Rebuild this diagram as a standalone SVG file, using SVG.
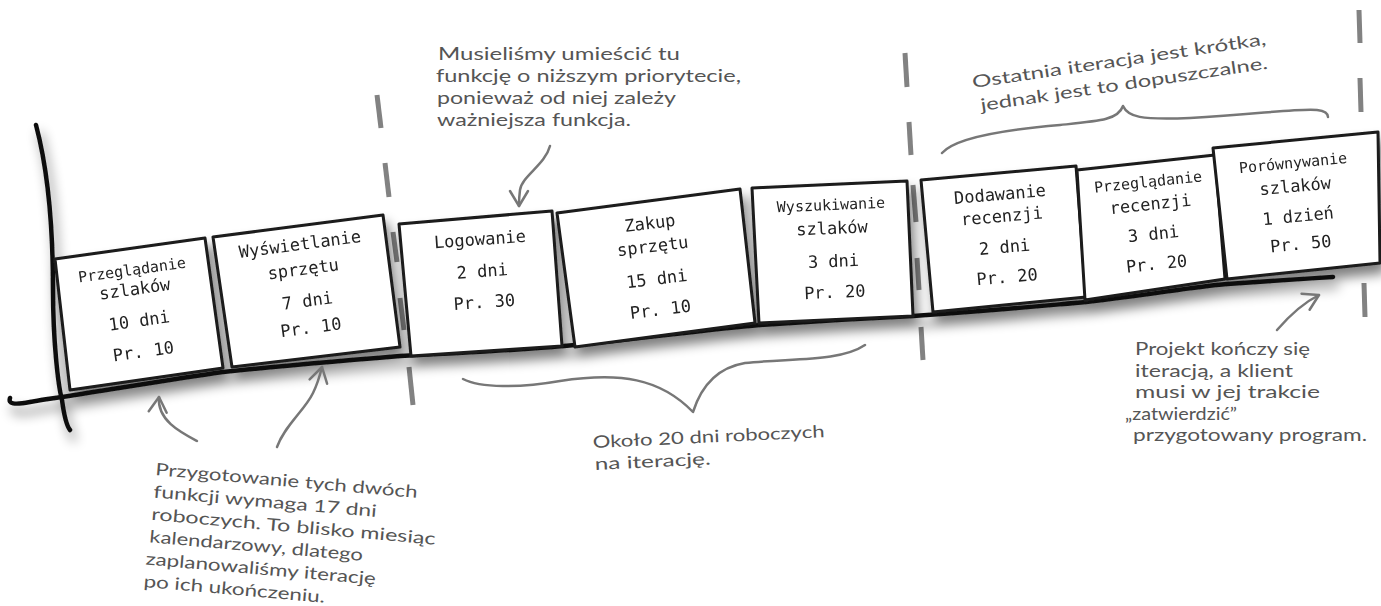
<svg xmlns="http://www.w3.org/2000/svg" width="1381" height="606" viewBox="0 0 1381 606">
<defs>
<style>
.card{fill:#fff;stroke:#1a1a1a;stroke-width:3;stroke-linejoin:round}
.ct{font-family:"DejaVu Sans Mono","Liberation Mono",monospace;font-size:17px;fill:#222;text-anchor:middle}
.s{font-size:15px}
.note{font-family:Lato,"Noto Sans",sans-serif;font-size:17px;fill:#555}
.pen{fill:none;stroke:#777;stroke-width:2.5;stroke-linecap:round;stroke-linejoin:round}
.arrow{marker-end:url(#ah)}
.dash{stroke:#828282;stroke-width:5}
.axis{fill:none;stroke:#111;stroke-width:4.5;stroke-linecap:round;stroke-linejoin:round}
</style>
<marker id="ah" markerUnits="userSpaceOnUse" markerWidth="30" markerHeight="30" refX="0" refY="0" orient="auto" overflow="visible">
<path d="M-15,-9 L0,0 L-15,9" fill="none" stroke="#777" stroke-width="2.5" stroke-linecap="round" stroke-linejoin="round"/>
</marker>
<filter id="sh" x="-5%" y="-20%" width="115%" height="160%">
<feGaussianBlur in="SourceAlpha" stdDeviation="6"/>
<feOffset dx="4" dy="9"/>
<feComponentTransfer><feFuncA type="linear" slope="0.5"/></feComponentTransfer>
<feMerge><feMergeNode/><feMergeNode in="SourceGraphic"/></feMerge>
</filter>
</defs>
<rect width="1381" height="606" fill="#fff"/>

<g id="iteration-dividers">
<line class="dash" x1="377" y1="95" x2="381" y2="128"/>
<line class="dash" x1="385" y1="163" x2="389" y2="197"/>
<line class="dash" x1="393" y1="232" x2="397" y2="262"/>
<line class="dash" x1="400" y1="298" x2="404" y2="330"/>
<line class="dash" x1="409" y1="367" x2="413" y2="405"/>
<line class="dash" x1="905" y1="53" x2="907" y2="87"/>
<line class="dash" x1="909" y1="122" x2="911" y2="155"/>
<line class="dash" x1="913" y1="185" x2="916" y2="222"/>
<line class="dash" x1="917" y1="258" x2="919" y2="290"/>
<line class="dash" x1="921" y1="327" x2="923" y2="360"/>
<line class="dash" x1="1359" y1="10" x2="1360" y2="43"/>
<line class="dash" x1="1360" y1="78" x2="1361" y2="112"/>
<line class="dash" x1="1364" y1="283" x2="1365" y2="317"/>
</g>

<g id="timeline" filter="url(#sh)">
<path class="axis" d="M36,125 C48,170 53,220 53,290 C53,340 58,385 62,400 C64,415 66,425 70,430"/>
<path class="axis" d="M10,398 C8,404 14,405 30,402 C45,399 55,398 62,397 C120,388 180,378 223,372 C300,364 350,360 400,356 C480,352 520,350 564,346 C650,338 700,330 760,325 C830,320 870,318 913,316 C1000,310 1040,306 1086,302 C1150,295 1190,287 1227,284 C1270,281 1300,279 1333,277"/>

<g id="card1"><polygon class="card" points="55,259 205,238 223,368 70,390"/>
<g transform="translate(132,270) rotate(-8)"><text class="ct s" y="5">Przeglądanie</text><text class="ct" y="25">szlaków</text><text class="ct" y="57">10 dni</text><text class="ct" y="88">Pr. 10</text></g></g>

<g id="card2"><polygon class="card" points="213,237 383,215 400,347 232,367"/>
<g transform="translate(300,245) rotate(-7.5)"><text class="ct" y="5">Wyświetlanie</text><text class="ct" y="30">sprzętu</text><text class="ct" y="62">7 dni</text><text class="ct" y="89">Pr. 10</text></g></g>

<g id="card3"><polygon class="card" points="399,224 552,211 562,346 411,356"/>
<g transform="translate(480,240) rotate(-4)"><text class="ct" y="5">Logowanie</text><text class="ct" y="37">2 dni</text><text class="ct" y="68">Pr. 30</text></g></g>

<g id="card4"><polygon class="card" points="557,213 740,189 755,323 575,347"/>
<g transform="translate(650,224) rotate(-7)"><text class="ct" y="5">Zakup</text><text class="ct" y="28">sprzętu</text><text class="ct" y="61">15 dni</text><text class="ct" y="92">Pr. 10</text></g></g>

<g id="card5"><polygon class="card" points="752,188 907,181 913,316 759,323"/>
<g transform="translate(831,205) rotate(-2.5)"><text class="ct s" y="5">Wyszukiwanie</text><text class="ct" y="29">szlaków</text><text class="ct" y="62">3 dni</text><text class="ct" y="93">Pr. 20</text></g></g>

<g id="card6"><polygon class="card" points="921,180 1076,166 1086,297 933,312"/>
<g transform="translate(1000,195) rotate(-5)"><text class="ct" y="5">Dodawanie</text><text class="ct" y="27">recenzji</text><text class="ct" y="58">2 dni</text><text class="ct" y="88">Pr. 20</text></g></g>

<g id="card7"><polygon class="card" points="1077,170 1215,155 1225,279 1085,300"/>
<g transform="translate(1148,182) rotate(-6)"><text class="ct s" y="5">Przeglądanie</text><text class="ct" y="28">recenzji</text><text class="ct" y="58">3 dni</text><text class="ct" y="88">Pr. 20</text></g></g>

<g id="card8"><polygon class="card" points="1213,148 1378,132 1380,263 1227,279"/>
<g transform="translate(1293,163) rotate(-5.5)"><text class="ct s" y="5">Porównywanie</text><text class="ct" y="29">szlaków</text><text class="ct" y="59">1 dzień</text><text class="ct" y="87">Pr. 50</text></g></g>
</g>

<g id="connectors">
<path class="pen arrow" d="M550,146 C545,165 522,176 520,190 C519,197 519,202 519,206"/>
<path class="pen arrow" d="M197,441 C180,432 157,420 159,397"/>
<path class="pen arrow" d="M277,447 C285,425 305,410 313,393 C318,383 320,375 322,367"/>
<path class="pen arrow" d="M1277,330 C1290,315 1305,302 1319,295"/>
<path class="pen" d="M463,379 C480,388 520,388 560,381 C620,372 660,378 693,412 C700,390 715,368 745,363 C790,358 840,362 865,345"/>
<path class="pen" d="M942,153 C955,138 1000,130 1060,125 C1100,121 1118,120 1123,106 C1128,117 1140,120 1190,118 C1260,114 1300,108 1317,110 C1325,111 1328,114 1328,117"/>
</g>

<g id="note-priority">
<text class="note" x="438" y="60" textLength="242" lengthAdjust="spacingAndGlyphs">Musieliśmy umieścić tu</text>
<text class="note" x="436" y="82" textLength="305" lengthAdjust="spacingAndGlyphs">funkcję o niższym priorytecie,</text>
<text class="note" x="437" y="104" textLength="239" lengthAdjust="spacingAndGlyphs">ponieważ od niej zależy</text>
<text class="note" x="437" y="126" textLength="194" lengthAdjust="spacingAndGlyphs">ważniejsza funkcja.</text>
</g>

<g id="note-last" transform="translate(973,88) rotate(-8.4)">
<text class="note" x="0" y="0" textLength="297" lengthAdjust="spacingAndGlyphs">Ostatnia iteracja jest krótka,</text>
<text class="note" x="5" y="24" textLength="290" lengthAdjust="spacingAndGlyphs">jednak jest to dopuszczalne.</text>
</g>

<g id="note-two" transform="translate(155,475) rotate(5)">
<text class="note" x="0" y="0" textLength="263" lengthAdjust="spacingAndGlyphs">Przygotowanie tych dwóch</text>
<text class="note" x="0" y="22.5" textLength="224" lengthAdjust="spacingAndGlyphs">funkcji wymaga 17 dni</text>
<text class="note" x="0" y="45" textLength="285" lengthAdjust="spacingAndGlyphs">roboczych. To blisko miesiąc</text>
<text class="note" x="0" y="67.5" textLength="214" lengthAdjust="spacingAndGlyphs">kalendarzowy, dlatego</text>
<text class="note" x="-2" y="90" textLength="231" lengthAdjust="spacingAndGlyphs">zaplanowaliśmy iterację</text>
<text class="note" x="-2" y="112.5" textLength="182" lengthAdjust="spacingAndGlyphs">po ich ukończeniu.</text>
</g>

<g id="note-20days" transform="translate(593,448) rotate(-2.7)">
<text class="note" x="0" y="0" textLength="232" lengthAdjust="spacingAndGlyphs">Około 20 dni roboczych</text>
<text class="note" x="1" y="22" textLength="116" lengthAdjust="spacingAndGlyphs">na iterację.</text>
</g>

<g id="note-end">
<text class="note" x="1135" y="355" textLength="175" lengthAdjust="spacingAndGlyphs">Projekt kończy się</text>
<text class="note" x="1135" y="376.5" textLength="158" lengthAdjust="spacingAndGlyphs">iteracją, a klient</text>
<text class="note" x="1135" y="398" textLength="185" lengthAdjust="spacingAndGlyphs">musi w jej trakcie</text>
<text class="note" x="1125" y="419.5" textLength="112" lengthAdjust="spacingAndGlyphs">„zatwierdzić”</text>
<text class="note" x="1133" y="441" textLength="234" lengthAdjust="spacingAndGlyphs">przygotowany program.</text>
</g>
</svg>
